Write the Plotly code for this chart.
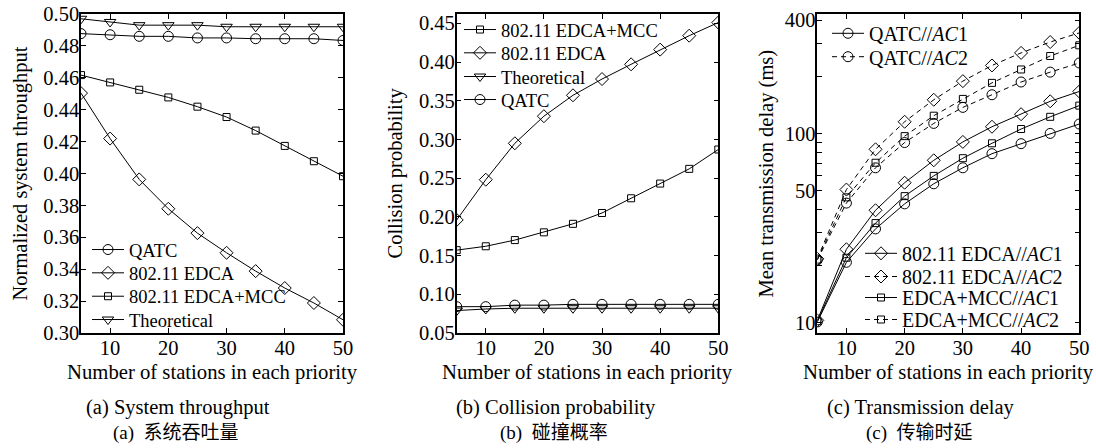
import plotly.graph_objects as go

# ---------------- data ----------------
stations = [5, 10, 15, 20, 25, 30, 35, 40, 45, 50]

# (a) System throughput
thr_qatc = [0.4877, 0.4870, 0.4860, 0.4860, 0.4850, 0.4850, 0.4845, 0.4845, 0.4845, 0.4834]
thr_edca = [0.4504, 0.4219, 0.3963, 0.3779, 0.3626, 0.3503, 0.3388, 0.3282, 0.3188, 0.3083]
thr_mcc = [0.4617, 0.4571, 0.4525, 0.4477, 0.4419, 0.4354, 0.4269, 0.4173, 0.4077, 0.3983]
thr_theo = [0.4970, 0.4950, 0.4930, 0.4930, 0.4930, 0.4920, 0.4920, 0.4920, 0.4920, 0.4920]

# (b) Collision probability
col_mcc = [0.157, 0.162, 0.170, 0.180, 0.191, 0.205, 0.224, 0.243, 0.262, 0.287]
col_edca = [0.196, 0.248, 0.295, 0.330, 0.357, 0.378, 0.397, 0.416, 0.434, 0.451]
col_theo = [0.079, 0.081, 0.082, 0.082, 0.082, 0.082, 0.082, 0.082, 0.082, 0.082]
col_qatc = [0.084, 0.084, 0.086, 0.086, 0.087, 0.087, 0.087, 0.087, 0.087, 0.087]

# (c) Mean transmission delay (ms)
dl_qatc1 = [10.1, 20.9, 31.4, 42.6, 54.4, 66.1, 78.5, 88.7, 100.5, 112.7]
dl_qatc2 = [21.5, 43.0, 66.1, 89.9, 113.5, 138, 161, 188, 212, 237]
dl_edca1 = [10.3, 24.5, 39.4, 55.1, 72.4, 90.6, 109, 127, 148.6, 167.5]
dl_edca2 = [21.8, 50.7, 82.8, 115.8, 151.4, 190, 230, 268, 306, 342]
dl_mcc1 = [10.2, 22.1, 33.7, 46.8, 59.9, 74.3, 89.1, 106, 123, 141]
dl_mcc2 = [21.6, 46.1, 70.3, 97.2, 124.7, 153, 186, 219, 258, 294]

x_ticks = [10, 20, 30, 40, 50]
a_ticks = [0.30, 0.32, 0.34, 0.36, 0.38, 0.40, 0.42, 0.44, 0.46, 0.48, 0.50]
b_ticks = [0.05, 0.10, 0.15, 0.20, 0.25, 0.30, 0.35, 0.40, 0.45]
c_ticks = [10, 20, 30, 40, 50, 60, 70, 80, 90, 100, 200, 300, 400]
c_ticktext = ["10", "", "", "", "50", "", "", "", "", "100", "", "", "400"]

captions_en = ["(a) System throughput", "(b) Collision probability", "(c) Transmission delay"]
captions_zh = ["(a)  系统吞吐量", "(b)  碰撞概率", "(c)  传输时延"]

# ---------------- figure ----------------
# body margin is removed by a post script, so page px == figure px
OFF = 0
W, H = 1096, 448
SERIF = "Liberation Serif"
fig = go.Figure()


def px_x(p):
    return (p - OFF) / W


def px_y(p):
    return 1 - (p - OFF) / H


legends = {}
count = [1]


def add(x, y, name, sym, size, xa, ya, lx, ly, fs, dash="solid"):
    count[0] += 1
    key = "legend%d" % count[0]
    fig.add_trace(go.Scatter(
        x=x, y=y, name=name, mode="lines+markers",
        line=dict(color="black", width=1, dash=dash),
        marker=dict(symbol=sym, size=size, color="black", line=dict(width=1)),
        xaxis=xa, yaxis=ya, legend=key))
    legends[key] = dict(
        bgcolor="rgba(0,0,0,0)", borderwidth=0,
        font=dict(family=SERIF, size=fs, color="black"),
        xanchor="left", yanchor="middle", x=px_x(lx), y=px_y(ly),
        itemwidth=32)


# panel a (legend: lower left)
LA = 87
add(stations, thr_qatc, "QATC", "circle-open", 10, "x", "y", LA, 250, 18.5)
add(stations, thr_edca, "802.11 EDCA", "diamond-open", 10, "x", "y", LA, 273.3, 18.5)
add(stations, thr_mcc, "802.11 EDCA+MCC", "square-open", 7, "x", "y", LA, 296.7, 18.5)
add(stations, thr_theo, "Theoretical", "triangle-down-open", 10, "x", "y", LA, 320, 18.5)

# panel b (legend: upper left)
LB = 459
add(stations, col_mcc, "802.11 EDCA+MCC", "square-open", 7, "x2", "y2", LB, 30, 18.5)
add(stations, col_edca, "802.11 EDCA", "diamond-open", 10, "x2", "y2", LB, 53.3, 18.5)
add(stations, col_theo, "Theoretical", "triangle-down-open", 10, "x2", "y2", LB, 77, 18.5)
add(stations, col_qatc, "QATC", "circle-open", 10, "x2", "y2", LB, 100, 18.5)

# panel c (two legends)
DASH = "5px,4px"
LC1, LC2 = 827, 860
add(stations, dl_qatc1, "QATC//<i>AC</i>1", "circle-open", 10, "x3", "y3", LC1, 33.3, 20)
add(stations, dl_qatc2, "QATC//<i>AC</i>2", "circle-open", 10, "x3", "y3", LC1, 56.7, 20, DASH)
add(stations, dl_edca1, "802.11 EDCA//<i>AC</i>1", "diamond-open", 10, "x3", "y3", LC2, 253.3, 20)
add(stations, dl_edca2, "802.11 EDCA//<i>AC</i>2", "diamond-open", 10, "x3", "y3", LC2, 276.5, 20, DASH)
add(stations, dl_mcc1, "EDCA+MCC//<i>AC</i>1", "square-open", 7, "x3", "y3", LC2, 297.5, 20)
add(stations, dl_mcc2, "EDCA+MCC//<i>AC</i>2", "square-open", 7, "x3", "y3", LC2, 319.5, 20, DASH)

y_dom = [px_y(333), px_y(14)]
x_doms = [[px_x(81), px_x(343)], [px_x(456.7), px_x(718.3)], [px_x(817.3), px_x(1079.3)]]

axis_common = dict(
    showline=True, linecolor="black", linewidth=1.5, mirror="ticks",
    ticks="inside", ticklen=5, tickwidth=1, tickcolor="black",
    showgrid=False, zeroline=False, automargin=False,
    ticklabeloverflow="allow",
    tickfont=dict(family=SERIF, size=20.5, color="black"),
)

for i, dom in enumerate(x_doms):
    sfx = "" if i == 0 else str(i + 1)
    fig.layout["xaxis" + sfx] = dict(
        axis_common, domain=dom, range=[5, 50], tickvals=x_ticks,
        anchor="y" + sfx, ticklabelstandoff=-4)

fig.layout["yaxis"] = dict(axis_common, domain=y_dom, range=[0.30, 0.50],
                           tickvals=a_ticks, tickformat=".2f", anchor="x",
                           ticklabelstandoff=-4)
fig.layout["yaxis2"] = dict(axis_common, domain=y_dom, range=[0.05, 0.462],
                            tickvals=b_ticks, tickformat=".2f", anchor="x2",
                            ticklabelstandoff=-4)
fig.layout["yaxis3"] = dict(axis_common, domain=y_dom, type="log",
                            range=[0.946, 2.634], tickvals=c_ticks,
                            ticktext=c_ticktext, anchor="x3",
                            ticklabelstandoff=-4)

fig.update_layout(
    width=W, height=H,
    margin=dict(l=0, r=0, t=0, b=0, autoexpand=False),
    paper_bgcolor="white", plot_bgcolor="white", showlegend=True, **legends)

ann = []
# y-axis titles
for xc, txt in [(20, "Normalized system throughput"),
                (395, "Collision probability"),
                (766, "Mean transmission delay (ms)")]:
    ann.append(dict(x=px_x(xc), y=px_y(173.5), xref="paper", yref="paper",
                    text=txt, showarrow=False, textangle=-90,
                    font=dict(family=SERIF, size=20.5, color="black"),
                    xanchor="center", yanchor="middle"))
# x-axis titles and captions
for i, (xc, xcap) in enumerate([(212, 178), (587, 556), (948, 921)]):
    ann.append(dict(x=px_x(xc), y=px_y(372), xref="paper", yref="paper",
                    text="Number of stations in each priority", showarrow=False,
                    font=dict(family=SERIF, size=20.7, color="black"),
                    xanchor="center", yanchor="middle"))
    ann.append(dict(x=px_x(xcap), y=px_y(407), xref="paper", yref="paper",
                    text=captions_en[i], showarrow=False,
                    font=dict(family=SERIF, size=20.5, color="black"),
                    xanchor="center", yanchor="middle"))
    ann.append(dict(x=px_x(xcap - 2), y=px_y(433), xref="paper", yref="paper",
                    text=captions_zh[i], showarrow=False,
                    font=dict(family="Liberation Serif, Noto Sans CJK SC", size=19, color="black"),
                    xanchor="center", yanchor="middle"))
fig.update_layout(annotations=ann)

fig.write_html(
    "out.html",
    config={"displayModeBar": False},
    post_script="document.body.style.margin='0px';document.body.style.overflow='hidden';")
